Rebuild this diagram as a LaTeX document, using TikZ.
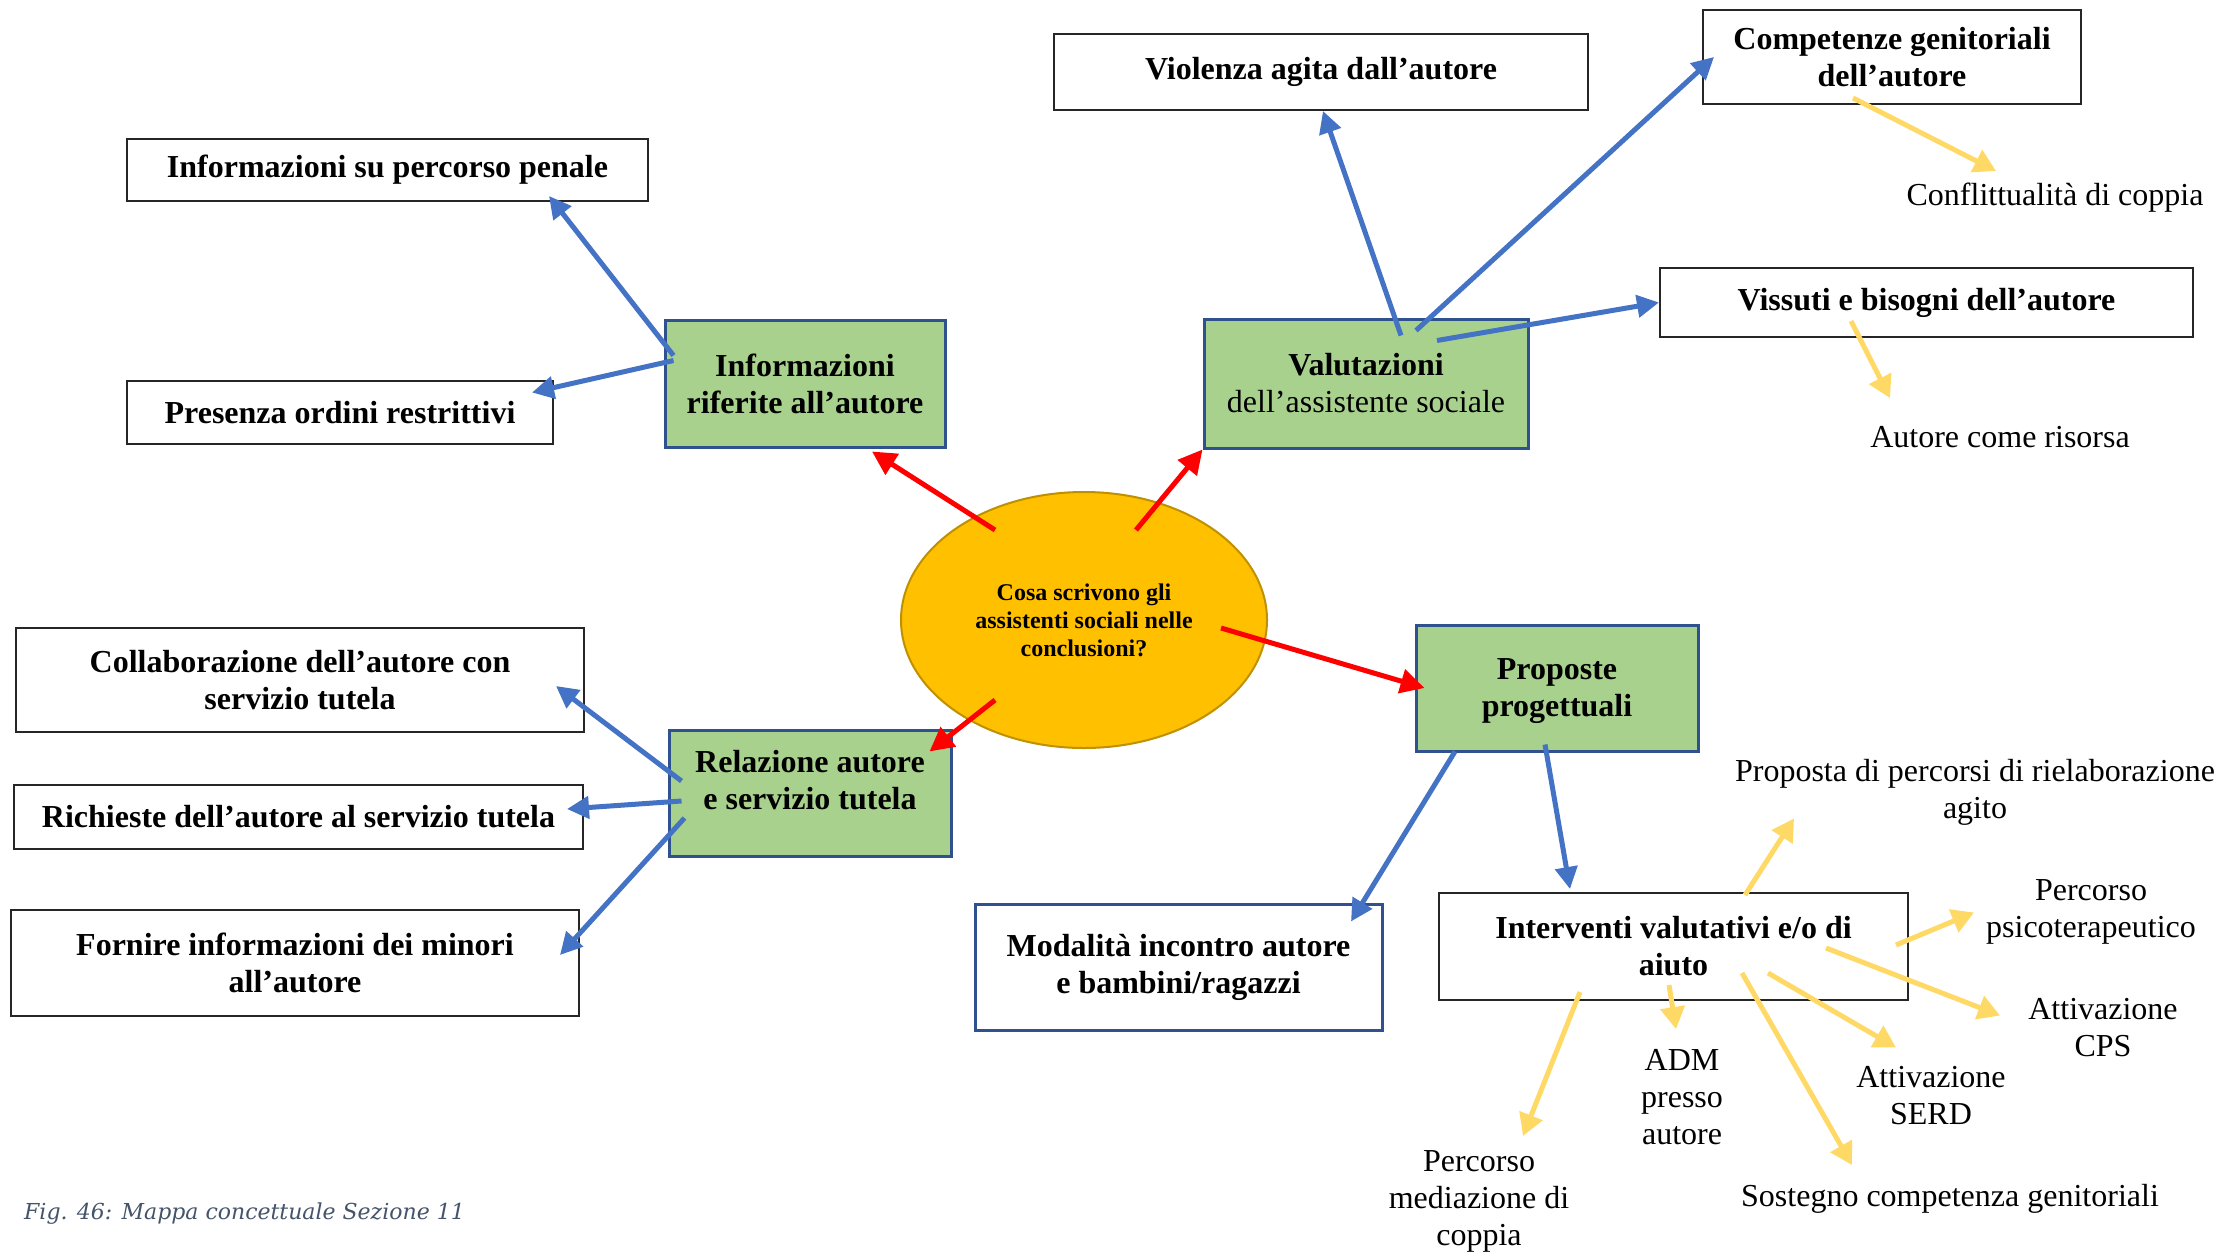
\documentclass[tikz,border=0pt]{standalone}
\usepackage{fontspec}
\setmainfont{Liberation Serif}
\newfontfamily\capfont{DejaVu Serif}
\usetikzlibrary{shapes, arrows.meta, positioning}
\definecolor{bblue}{HTML}{4472C4}
\definecolor{ylw}{HTML}{FFD966}
\definecolor{grn}{HTML}{A9D18E}
\definecolor{grnline}{HTML}{2F528F}
\definecolor{gold}{HTML}{FFC000}
\definecolor{goldline}{HTML}{BF9000}
\definecolor{capgray}{HTML}{44546A}
\newcommand\mapfont{\fontsize{32}{37}\selectfont}
\tikzstyle{every node}=[font=\mapfont]
\tikzstyle{block}=[draw=black!85, line width=2pt, fill=white, rectangle, align=center, font=\mapfont\bfseries]
\tikzstyle{topic}=[draw=grnline, line width=3pt, fill=grn, rectangle, align=center, font=\mapfont\bfseries]
\tikzstyle{note}=[align=center]
\tikzstyle{redarr}=[-{Triangle[length=24pt,width=24pt]}, red, line width=5pt]
\tikzstyle{bluearr}=[-{Triangle[length=22pt,width=22pt]}, bblue, line width=5pt]
\tikzstyle{yelarr}=[-{Triangle[length=22pt,width=24pt]}, ylw, line width=5pt]

\begin{document}
\begin{tikzpicture}[x=1pt, y=-1pt]
    \useasboundingbox[fill=white] (0,0) rectangle (2219,1256);
    % centre
    \node[ellipse, draw=goldline, line width=2pt, fill=gold, minimum width=366, minimum height=256, align=center, font=\fontsize{24}{28}\selectfont\bfseries] (q) at (1084,620) {Cosa scrivono gli\\assistenti sociali nelle\\conclusioni?};
    % four topics
    \node[topic, minimum width=280, minimum height=127] (inf) at (805,383.5) {Informazioni\\riferite all’autore};
    \node[topic, minimum width=324, minimum height=129] (val) at (1366,383.5) {Valutazioni\\\mdseries dell’assistente sociale};
    \node[topic, minimum width=282, minimum height=126, text depth=-5pt] (pro) at (1557,688) {Proposte\\progettuali};
    \node[topic, minimum width=282, minimum height=126, text depth=26pt] (rel) at (810,793) {Relazione autore\\e servizio tutela};
    % boxes
    \node[block, minimum width=521, minimum height=62] (pen) at (387.5,170) {Informazioni su percorso penale};
    \node[block, minimum width=426, minimum height=63] (ord) at (340,412.5) {Presenza ordini restrittivi};
    \node[block, minimum width=534, minimum height=76] (vio) at (1321,72) {Violenza agita dall’autore};
    \node[block, minimum width=378, minimum height=94] (com) at (1892,57) {Competenze genitoriali\\dell’autore};
    \node[block, minimum width=533, minimum height=69] (vis) at (1926.5,302.5) {Vissuti e bisogni dell’autore};
    \node[block, minimum width=568, minimum height=104] (col) at (300,680) {Collaborazione dell’autore con\\servizio tutela};
    \node[block, minimum width=569, minimum height=64] (ric) at (298.5,817) {Richieste dell’autore al servizio tutela};
    \node[block, minimum width=568, minimum height=106] (forn) at (295,963) {Fornire informazioni dei minori\\all’autore};
    \node[block, draw=grnline, line width=3pt, minimum width=407, minimum height=126] (mod) at (1178.5,967) {Modalità incontro autore\\e bambini/ragazzi};
    \node[block, minimum width=469, minimum height=107] (int) at (1673.5,946.5) {Interventi valutativi e/o di\\aiuto};
    % plain labels
    \node[note] (conf) at (2055,198) {Conflittualità di coppia};
    \node[note] (ris) at (2000,437) {Autore come risorsa};
    \node[note] (prop) at (1975,792.5) {Proposta di percorsi di rielaborazione\\agito};
    \node[note] (psi) at (2091,911.5) {Percorso\\psicoterapeutico};
    \node[note] (cps) at (2103,1027.5) {Attivazione\\CPS};
    \node[note] (serd) at (1931,1095.5) {Attivazione\\SERD};
    \node[note] (sost) at (1950,1199) {Sostegno competenza genitoriali};
    \node[note] (adm) at (1682,1097) {ADM\\presso\\autore};
    \node[note] (med) at (1479,1201) {Percorso\\mediazione di\\coppia};
    \node[anchor=west, inner sep=0, text=capgray, font=\capfont\itshape\fontsize{22}{26}\selectfont] (cap) at (24,1214) {Fig. 46: Mappa concettuale Sezione 11};

    % red: centre to topics
    \draw[redarr] ([shift={(-89,-90)}]q.center) -- ([shift={(67,3)}]inf.south);
    \draw[redarr] ([shift={(52,-90)}]q.center) -- (val.south west);
    \draw[redarr] ([shift={(137,8)}]q.center) -- ([xshift=10]pro.west);
    \draw[redarr] ([shift={(-89,80)}]q.center) -- ([shift={(-23,23)}]rel.north east);

    % blue: topics to boxes
    \draw[bluearr] ([shift={(10,37)}]inf.north west) -- ([shift={(161.5,-6)}]pen.south);
    \draw[bluearr] ([shift={(10,42)}]inf.north west) -- ([shift={(-22,-20)}]ord.east);
    \draw[bluearr] ([shift={(35,18)}]val.north) -- ([xshift=2]vio.south);
    \draw[bluearr] ([shift={(50,13)}]val.north) -- ([xshift=12]com.west);
    \draw[bluearr] ([shift={(71,23)}]val.north) -- (vis.west);
    \draw[bluearr] ([shift={(14,-12)}]rel.west) -- ([shift={(-29,6)}]col.east);
    \draw[bluearr] ([shift={(14,8)}]rel.west) -- ([shift={(-17,-8)}]ric.east);
    \draw[bluearr] ([shift={(17,25)}]rel.west) -- ([shift={(-20,-8)}]forn.east);
    \draw[bluearr] ([shift={(-102,-1)}]pro.south) -- ([shift={(172.5,19)}]mod.north);
    \draw[bluearr] ([shift={(-12,-8)}]pro.south) -- ([shift={(-103.5,-3)}]int.north);

    % yellow: details
    \draw[yelarr] ([shift={(-39,-7)}]com.south) -- ([shift={(-59,-27)}]conf.center);
    \draw[yelarr] ([shift={(-75.5,-17)}]vis.south) -- ([shift={(-110,-39)}]ris.center);
    \draw[yelarr] ([shift={(71.5,-51.5)}]int.center) -- ([shift={(-181,26)}]prop.center);
    \draw[yelarr] ([shift={(222.5,-1.5)}]int.center) -- ([shift={(-117,1)}]psi.center);
    \draw[yelarr] ([shift={(152.5,1.5)}]int.center) -- ([shift={(-103,-12)}]cps.center);
    \draw[yelarr] ([shift={(94.5,26.5)}]int.center) -- ([shift={(-35,-48)}]serd.center);
    \draw[yelarr] ([shift={(68.5,26.5)}]int.center) -- ([shift={(-98,-34)}]sost.center);
    \draw[yelarr] ([shift={(-4.5,38.5)}]int.center) -- ([shift={(-6,-68)}]adm.center);
    \draw[yelarr] ([shift={(-93.5,45.5)}]int.center) -- ([shift={(44,-65)}]med.center);
\end{tikzpicture}
\end{document}
